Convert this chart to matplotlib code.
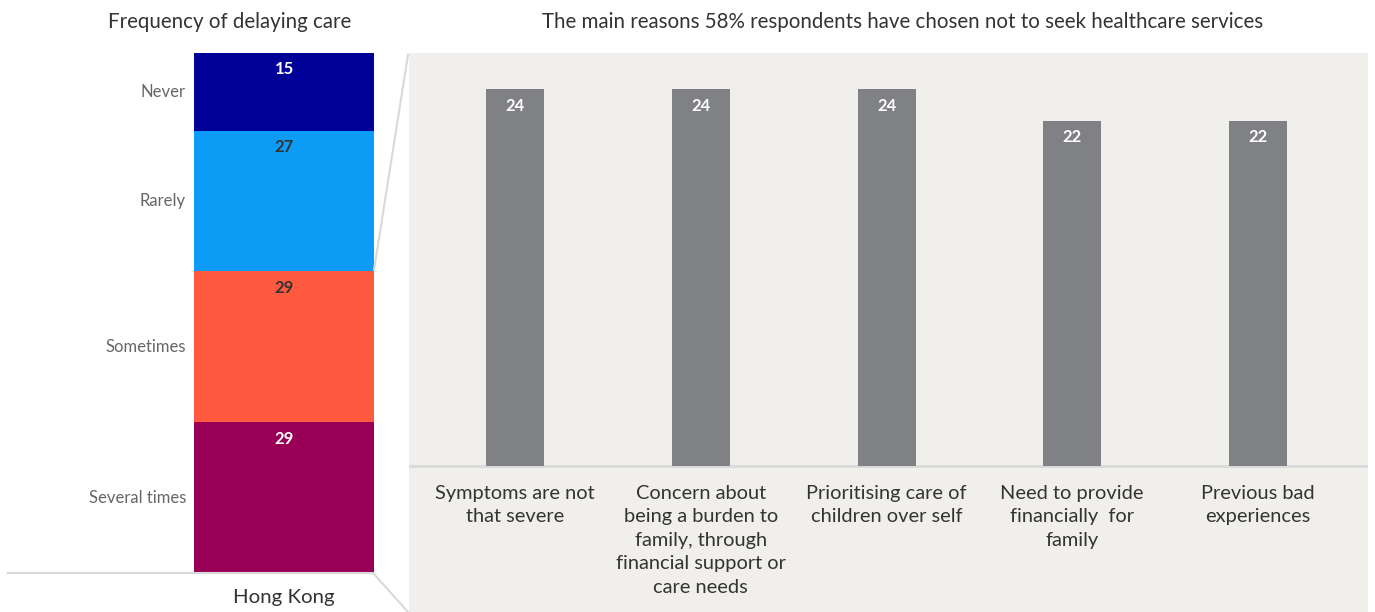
import matplotlib
matplotlib.use("Agg")
import matplotlib.pyplot as plt
from matplotlib.lines import Line2D

plt.rcParams['font.family'] = ['Lato', 'DejaVu Sans']

# ---- data ----
freq_labels = ["Never", "Rarely", "Sometimes", "Several times"]
freq_values = [15, 27, 29, 29]
freq_colors = ["#000099", "#0C9BF5", "#FF5A40", "#990055"]
freq_text_colors = ["white", "#333333", "#333333", "white"]
group_label = "Hong Kong"

reasons = ["Symptoms are not\nthat severe",
           "Concern about\nbeing a burden to\nfamily, through\nfinancial support or\ncare needs",
           "Prioritising care of\nchildren over self",
           "Need to provide\nfinancially  for\nfamily",
           "Previous bad\nexperiences"]
reason_values = [24, 24, 24, 22, 22]

left_title = "Frequency of delaying care"
right_title = "The main reasons 58% respondents have chosen not to seek healthcare services"

W, H = 1375, 612
fig = plt.figure(figsize=(W / 100, H / 100), dpi=100)
fig.patch.set_facecolor("white")

def px(x0, y0, x1, y1):
    return [x0 / W, 1 - y1 / H, (x1 - x0) / W, (y1 - y0) / H]

# ---- left stacked bar ----
axl = fig.add_axes(px(194, 53, 374, 573))
axl.set_xlim(-0.5, 0.5)
axl.set_ylim(sum(freq_values), 0)
axl.axis("off")
top = 0
for lab, v, c, tc in zip(freq_labels, freq_values, freq_colors, freq_text_colors):
    axl.bar(0, v, bottom=top, width=1.0, color=c, linewidth=0)
    axl.annotate(str(v), (0, top), xytext=(0, -6), textcoords="offset points",
                 ha="center", va="top", fontsize=12, fontweight="bold", color=tc)
    axl.text(-0.545, top + v / 2, lab, ha="right", va="center", fontsize=12,
             color="#666666", transform=axl.transData, clip_on=False)
    top += v

fig.text(230 / W, 1 - 22 / H, left_title, ha="center", va="center", fontsize=14.8, color="#333333")
fig.text(284 / W, 1 - 597 / H, group_label, ha="center", va="center", fontsize=14.7, color="#333333")

# baseline and connectors
fig.add_artist(Line2D([8 / W, 374 / W], [1 - 573 / H, 1 - 573 / H], color="#D9D9D9", lw=1.5))
fig.add_artist(Line2D([374 / W, 408 / W], [1 - 270 / H, 1 - 55 / H], color="#D9D9D9", lw=1.5))
fig.add_artist(Line2D([374 / W, 408 / W], [1 - 574 / H, 1 - 612 / H], color="#D9D9D9", lw=1.5))

# ---- right bar chart ----
axr = fig.add_axes(px(409, 53, 1368, 612))
axr.set_facecolor("#F0EFEC")
unit_x = 185.75
unit_y = 15.7
axr.set_xlim(-106 / unit_x, (959 - 106) / unit_x)
axr.set_ylim(-(612 - 466) / unit_y, (466 - 53) / unit_y)
for s in axr.spines.values():
    s.set_visible(False)
axr.set_xticks([])
axr.set_yticks([])
axr.axhline(0, color="#D9D9D9", lw=2, zorder=1)
xs = list(range(len(reasons)))
axr.bar(xs, reason_values, width=58 / unit_x, color="#808185", linewidth=0, zorder=2)
for x, v, lab in zip(xs, reason_values, reasons):
    axr.annotate(str(v), (x, v), xytext=(0, -6), textcoords="offset points",
                 ha="center", va="top", fontsize=12, fontweight="bold", color="white")
    axr.text(x, -1.2, lab, ha="center", va="top", fontsize=14.4, color="#333333",
             linespacing=1.46)

fig.text(903 / W, 1 - 22 / H, right_title, ha="center", va="center", fontsize=14.8, color="#333333")

fig.savefig("out.png", dpi=100, facecolor="white")
